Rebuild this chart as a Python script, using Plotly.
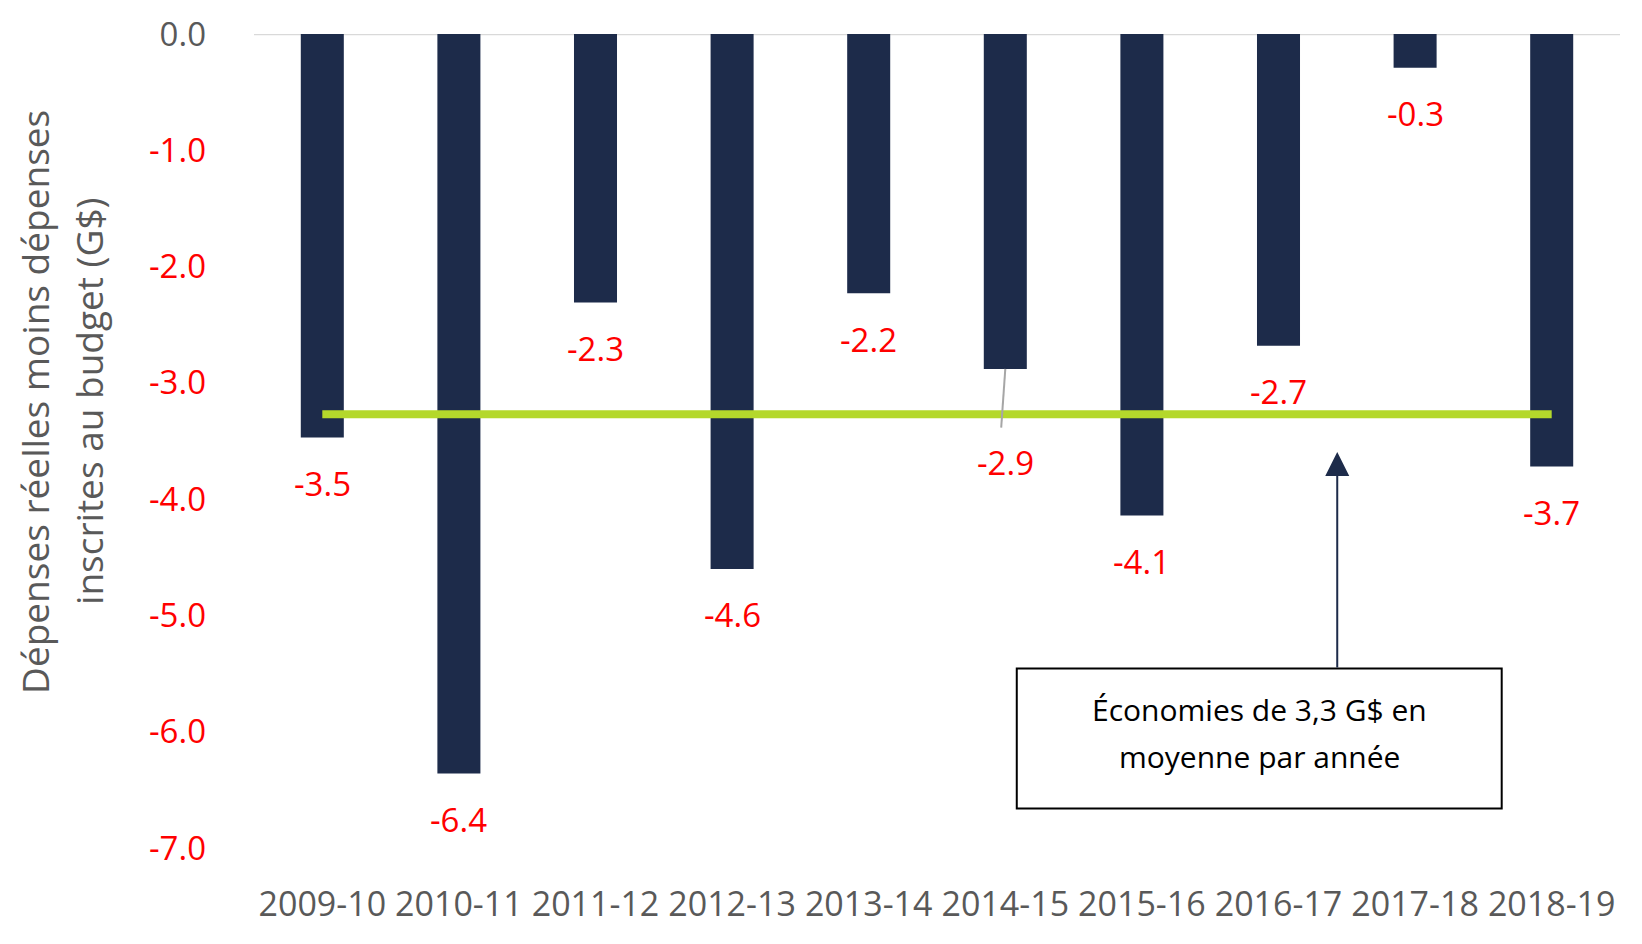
import plotly.graph_objects as go

# Exercices et écarts (dépenses réelles - dépenses budgétées, en G$)
exercices = ['2009-10', '2010-11', '2011-12', '2012-13', '2013-14',
             '2014-15', '2015-16', '2016-17', '2017-18', '2018-19']
ecarts = [-3.47, -6.36, -2.31, -4.60, -2.23, -2.88, -4.14, -2.68, -0.29, -3.72]
moyenne = -3.27

y_ticks = [0, -1, -2, -3, -4, -5, -6, -7]
y_ticktext = ['<span style="color:#595959">0.0</span>'] + ['%.1f' % v for v in y_ticks[1:]]

titre_y = ['Dépenses réelles moins dépenses', 'inscrites au budget (G$)']
texte_boite = ['Économies de 3,3 G$ en', 'moyenne par année']

FONT = 'Open Sans'
NAVY = '#1d2b4a'
RED = '#ff0000'
GREY = '#595959'

fig = go.Figure()

# barres
fig.add_trace(go.Bar(
    x=exercices,
    y=ecarts,
    marker=dict(color=NAVY, line=dict(width=0)),
    width=0.315,
    hoverinfo='skip',
))

# ligne de la moyenne
fig.add_trace(go.Scatter(
    x=[exercices[0], exercices[-1]],
    y=[moyenne, moyenne],
    mode='lines',
    line=dict(color='#b4d82b', width=8),
    hoverinfo='skip',
))

# étiquettes de données (en rouge sous chaque barre)
for i, (cat, v) in enumerate(zip(exercices, ecarts)):
    shift = -94 if cat == '2014-15' else -46
    fig.add_annotation(
        x=cat, y=v, text='%.1f' % v, showarrow=False,
        yshift=shift, yanchor='middle', xanchor='center',
        font=dict(family=FONT, size=33, color=RED),
    )

# trait de rappel pour 2014-15
fig.add_shape(type='line', xref='x', yref='y',
              x0=5, y0=ecarts[5], x1=4.97, y1=-3.385,
              line=dict(color='#a6a6a6', width=2))

# ligne du zéro
fig.add_shape(type='line', xref='paper', yref='y',
              x0=0, x1=1, y0=0, y1=0, layer='below',
              line=dict(color='#d9d9d9', width=2.5))

# boîte de texte + flèche
fig.add_shape(type='rect', xref='x', yref='y',
              x0=5.084, x1=8.634, y0=-5.457, y1=-6.661,
              line=dict(color='black', width=2), fillcolor='white')
fig.add_annotation(x=7.43, y=-3.594, text='', showarrow=True,
                   ax=0, ay=217, arrowhead=2, arrowsize=2.4, arrowwidth=2,
                   arrowcolor=NAVY, standoff=0, startstandoff=0)
for j, ligne in enumerate(texte_boite):
    fig.add_annotation(x=6.86, y=[-5.81, -6.21][j], text=ligne, showarrow=False,
                       xanchor='center', yanchor='middle',
                       font=dict(family=FONT, size=30, color='black'))

# titre de l'axe y sur deux lignes
for j, ligne in enumerate(titre_y):
    fig.add_annotation(xref='paper', yref='paper',
                       x=(35 + 54 * j - 254) / 1366, y=0.548,
                       text=ligne, textangle=-90, showarrow=False,
                       xanchor='center', yanchor='middle',
                       font=dict(family=FONT, size=37, color=GREY))

fig.update_layout(
    width=1634, height=936,
    margin=dict(l=246, r=22, t=26, b=96),
    plot_bgcolor='white', paper_bgcolor='white',
    showlegend=False,
    font=dict(family=FONT),
    xaxis=dict(type='category', showgrid=False, showline=False, zeroline=False,
               range=[-0.5, 9.5], automargin=False,
               ticklabelstandoff=33,
               tickfont=dict(family=FONT, size=34, color=GREY)),
    yaxis=dict(range=[-7, 0], showgrid=False, showline=False, zeroline=False,
               automargin=False, ticklabeloverflow='allow',
               tickvals=y_ticks, ticktext=y_ticktext,
               ticklabelstandoff=47,
               tickfont=dict(family=FONT, size=33, color=RED)),
)

fig.write_html("out.html")
